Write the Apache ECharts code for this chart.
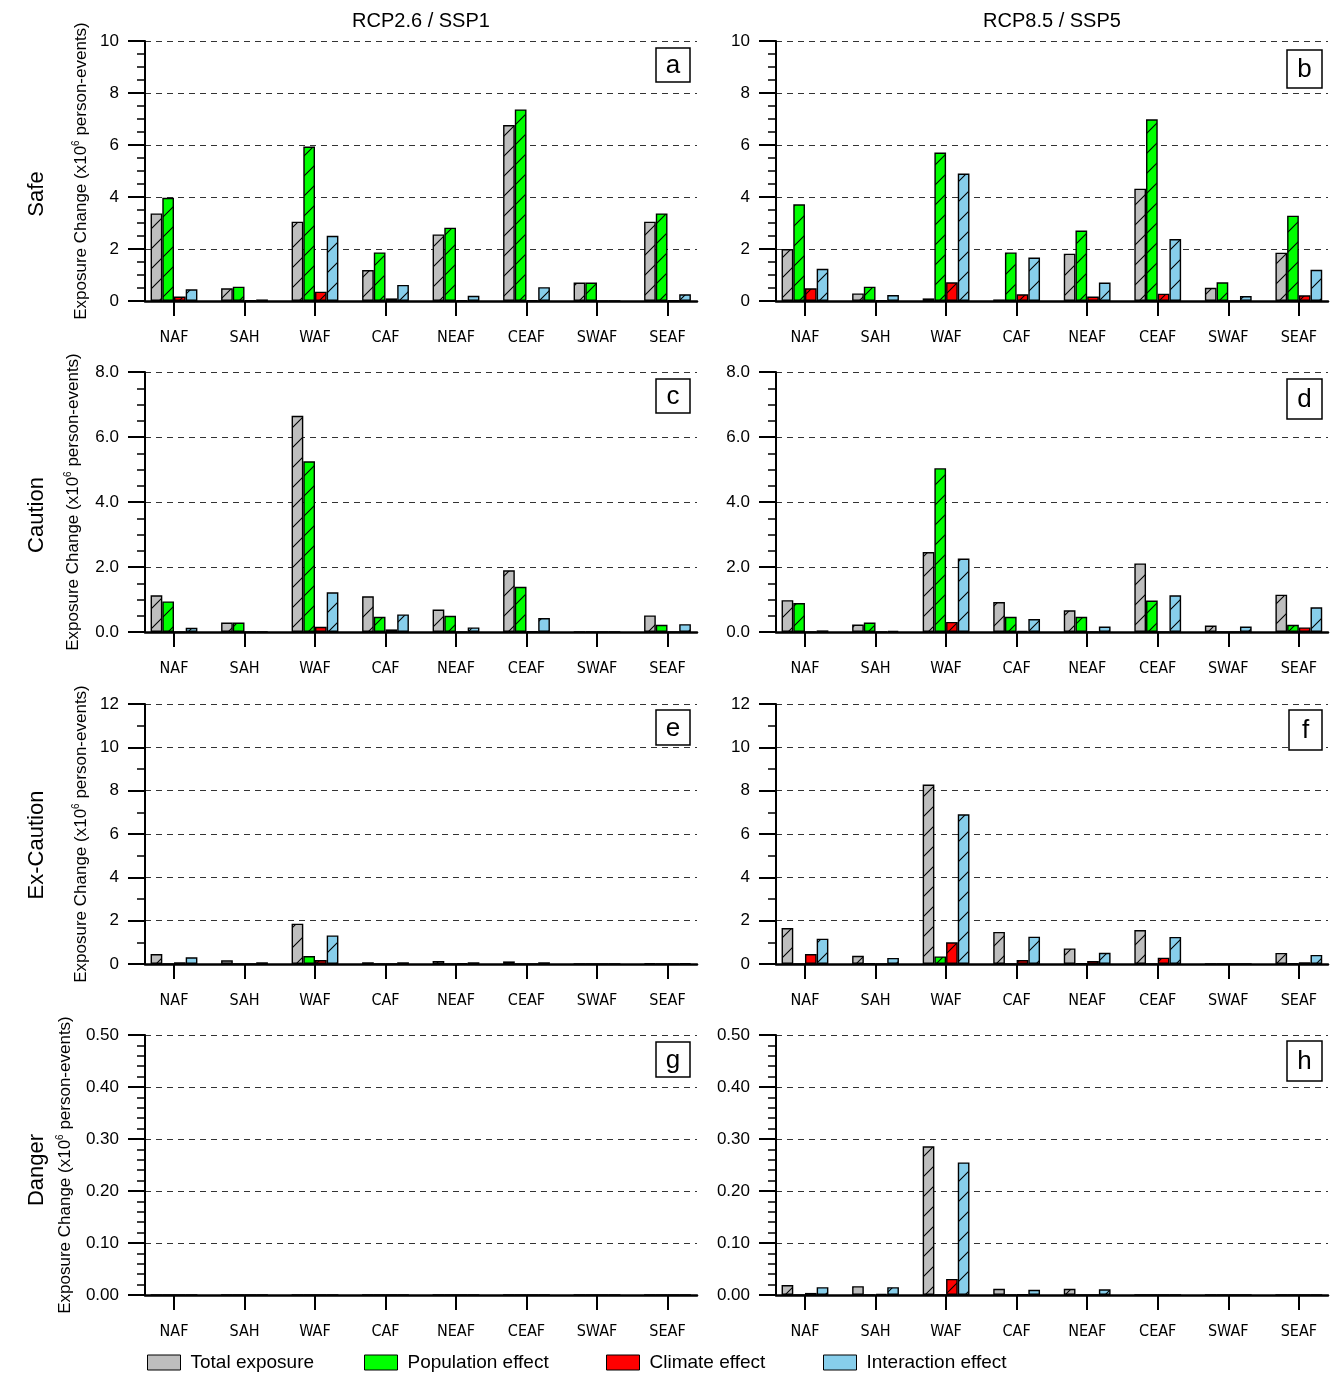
<!DOCTYPE html>
<html><head><meta charset="utf-8">
<script src="https://cdn.jsdelivr.net/npm/echarts@6/dist/echarts.min.js"></script>
<style>html,body{margin:0;padding:0;background:#fff}#chart{width:1332px;height:1374px}</style>
</head><body><div id="chart"></div>
<script>
// ---------- data ----------
const categories = ['NAF', 'SAH', 'WAF', 'CAF', 'NEAF', 'CEAF', 'SWAF', 'SEAF'];
const seriesNames = ['Total exposure', 'Population effect', 'Climate effect', 'Interaction effect'];
const seriesColors = ['#bebebe', '#00ff00', '#ff0000', '#87ceeb'];
const columnTitles = ['RCP2.6 / SSP1', 'RCP8.5 / SSP5'];
const rowTitles = ['Safe', 'Caution', 'Ex-Caution', 'Danger'];
const panelLetters = ['a', 'b', 'c', 'd', 'e', 'f', 'g', 'h'];
const rowAxisMax = [10, 8, 12, 0.5];
const rowAxisInterval = [2, 2, 2, 0.1];
const rowAxisDecimals = [0, 1, 0, 2];
const rowMinorSplits = [4, 4, 2, 5];

// a: Safe, RCP2.6/SSP1
const aTotal       = [3.37, 0.49, 3.05, 1.19, 2.56, 6.77, 0.71, 3.05];
const aPopulation  = [3.97, 0.55, 5.94, 1.87, 2.82, 7.37, 0.71, 3.37];
const aClimate     = [0.17, 0.02, 0.36, 0.10, 0.03, 0.03, 0.00, 0.02];
const aInteraction = [0.45, 0.06, 2.51, 0.62, 0.20, 0.53, 0.00, 0.26];
// b: Safe, RCP8.5/SSP5
const bTotal       = [2.00, 0.29, 0.10, 0.06, 1.82, 4.32, 0.51, 1.86];
const bPopulation  = [3.72, 0.55, 5.71, 1.87, 2.71, 6.99, 0.72, 3.28];
const bClimate     = [0.49, 0.02, 0.72, 0.26, 0.17, 0.28, 0.00, 0.22];
const bInteraction = [1.24, 0.23, 4.90, 1.67, 0.71, 2.38, 0.19, 1.20];
// c: Caution, RCP2.6/SSP1
const cTotal       = [1.13, 0.29, 6.65, 1.10, 0.69, 1.90, 0.01, 0.51];
const cPopulation  = [0.94, 0.29, 5.25, 0.47, 0.50, 1.39, 0.01, 0.22];
const cClimate     = [0.01, 0.00, 0.16, 0.08, 0.01, 0.02, 0.00, 0.01];
const cInteraction = [0.13, 0.01, 1.22, 0.54, 0.14, 0.43, 0.01, 0.24];
// d: Caution, RCP8.5/SSP5
const dTotal       = [0.98, 0.23, 2.46, 0.92, 0.67, 2.11, 0.20, 1.15];
const dPopulation  = [0.89, 0.29, 5.04, 0.47, 0.47, 0.97, 0.00, 0.22];
const dClimate     = [0.01, 0.00, 0.31, 0.04, 0.01, 0.01, 0.00, 0.14];
const dInteraction = [0.05, 0.04, 2.26, 0.40, 0.17, 1.13, 0.17, 0.76];
// e: Ex-Caution, RCP2.6/SSP1
const eTotal       = [0.46, 0.17, 1.86, 0.08, 0.14, 0.12, 0.00, 0.03];
const ePopulation  = [0.01, 0.00, 0.37, 0.00, 0.00, 0.00, 0.00, 0.00];
const eClimate     = [0.08, 0.00, 0.18, 0.00, 0.03, 0.00, 0.00, 0.00];
const eInteraction = [0.31, 0.08, 1.32, 0.08, 0.08, 0.08, 0.00, 0.03];
// f: Ex-Caution, RCP8.5/SSP5
const fTotal       = [1.66, 0.38, 8.28, 1.48, 0.72, 1.57, 0.00, 0.51];
const fPopulation  = [0.00, 0.02, 0.35, 0.00, 0.02, 0.00, 0.00, 0.03];
const fClimate     = [0.46, 0.00, 1.00, 0.18, 0.14, 0.29, 0.00, 0.08];
const fInteraction = [1.17, 0.28, 6.91, 1.26, 0.52, 1.25, 0.00, 0.42];
// g: Danger, RCP2.6/SSP1
const gTotal       = [0, 0, 0, 0, 0, 0, 0, 0];
const gPopulation  = [0, 0, 0, 0, 0, 0, 0, 0];
const gClimate     = [0, 0, 0, 0, 0, 0, 0, 0];
const gInteraction = [0, 0, 0, 0, 0, 0, 0, 0];
// h: Danger, RCP8.5/SSP5
const hTotal       = [0.019, 0.017, 0.286, 0.012, 0.012, 0, 0, 0];
const hPopulation  = [0, 0, 0, 0, 0, 0, 0, 0];
const hClimate     = [0.004, 0.002, 0.031, 0.001, 0, 0, 0, 0];
const hInteraction = [0.015, 0.015, 0.255, 0.010, 0.011, 0, 0, 0];

const panelData = [
  [aTotal, aPopulation, aClimate, aInteraction],
  [bTotal, bPopulation, bClimate, bInteraction],
  [cTotal, cPopulation, cClimate, cInteraction],
  [dTotal, dPopulation, dClimate, dInteraction],
  [eTotal, ePopulation, eClimate, eInteraction],
  [fTotal, fPopulation, fClimate, fInteraction],
  [gTotal, gPopulation, gClimate, gInteraction],
  [hTotal, hPopulation, hClimate, hInteraction]
];

// ---------- layout ----------
const rowTop = [41, 372, 704, 1035];
const plotH = 260;
const axisLeft = [145, 776];
const axisRight = [697, 1328];
const barLeft = [138.75, 769.7];
const barBand = [70.5, 70.55];
const nameGaps = [54, 62, 54, 70];
const rowTitleY = [194, 515, 845, 1170];
const letterBoxes = [
  [656, 48, 34, 34], [1287, 50, 35, 38],
  [656, 379, 34, 34], [1287, 379, 35, 40],
  [656, 710, 34, 35], [1289, 710, 33, 40],
  [656, 1042, 34, 35], [1287, 1041, 35, 40]
];
const FONT = '"Liberation Sans", Arial, Helvetica, sans-serif';
const NARROW = '"Liberation Sans Narrow", "DejaVu Sans Condensed", "Liberation Sans", sans-serif';

function makeHatch(fill) {
  const c = document.createElement('canvas');
  c.width = 20; c.height = 20;
  const ctx = c.getContext('2d');
  ctx.fillStyle = fill;
  ctx.fillRect(0, 0, 20, 20);
  ctx.strokeStyle = '#000';
  ctx.lineWidth = 1.1;
  ctx.beginPath();
  ctx.moveTo(-2, 22); ctx.lineTo(22, -2);
  ctx.moveTo(-12, 12); ctx.lineTo(12, -12);
  ctx.moveTo(8, 32); ctx.lineTo(32, 8);
  ctx.stroke();
  return c;
}
const patterns = seriesColors.map(col => ({ image: makeHatch(col), repeat: 'repeat' }));

const grids = [], xAxes = [], yAxes = [], series = [], graphics = [];

panelData.forEach((pd, i) => {
  const r = Math.floor(i / 2), c = i % 2;
  const gA = i * 2, gB = i * 2 + 1;
  grids.push({ left: axisLeft[c], top: rowTop[r], width: axisRight[c] - axisLeft[c], height: plotH,
    containLabel: false, outerBoundsMode: 'none' });
  grids.push({ left: barLeft[c], top: rowTop[r], width: barBand[c] * 8, height: plotH,
    containLabel: false, outerBoundsMode: 'none' });

  xAxes.push({ gridIndex: gA, type: 'category', data: categories,
    axisLine: { show: true, lineStyle: { color: '#000', width: 2.5 } },
    axisTick: { show: false }, axisLabel: { show: false }, splitLine: { show: false } });
  xAxes.push({ gridIndex: gB, type: 'category', data: categories, boundaryGap: true,
    axisLine: { show: false },
    axisTick: { show: true, alignWithLabel: true, length: 15, lineStyle: { color: '#000', width: 2 } },
    axisLabel: { show: true, interval: 0, margin: 29, fontSize: 16, fontFamily: NARROW, color: '#000' },
    splitLine: { show: false } });

  const yName = c === 0 ? '{a|Exposure Change (x10}{s|6}{a| person-events)}' : '';
  yAxes.push({ gridIndex: gA, type: 'value', min: 0, max: rowAxisMax[r], interval: rowAxisInterval[r],
    name: yName, nameLocation: 'middle', nameRotate: 90, nameGap: nameGaps[r],
    nameTextStyle: { rich: {
      a: { fontSize: 17, fontFamily: FONT, color: '#000', lineHeight: 20 },
      s: { fontSize: 10, fontFamily: FONT, color: '#000', verticalAlign: 'top', lineHeight: 20 } } },
    axisLine: { show: true, lineStyle: { color: '#000', width: 2 } },
    axisTick: { show: true, inside: false, length: 17, lineStyle: { color: '#000', width: 2 } },
    minorTick: { show: true, splitNumber: rowMinorSplits[r], length: 8, lineStyle: { color: '#000', width: 1.5 } },
    axisLabel: { show: true, margin: 26, fontSize: 17, fontFamily: FONT, color: '#000',
      formatter: v => Number(v).toFixed(rowAxisDecimals[r]) },
    splitLine: { show: true, lineStyle: { type: [6, 5], color: '#333', width: 1 } },
    minorSplitLine: { show: false } });
  yAxes.push({ gridIndex: gB, type: 'value', min: 0, max: rowAxisMax[r], show: false,
    splitLine: { show: false } });

  pd.forEach((vals, k) => {
    series.push({ type: 'bar', name: seriesNames[k], xAxisIndex: gB, yAxisIndex: gB,
      data: vals, barWidth: 11.7, barGap: '0%', silent: true,
      itemStyle: { color: patterns[k], borderColor: '#000', borderWidth: 1.4 },
      emphasis: { disabled: true } });
  });

  const lb = letterBoxes[i];
  graphics.push({ type: 'rect', shape: { x: lb[0], y: lb[1], width: lb[2], height: lb[3] },
    style: { fill: '#fff', stroke: '#000', lineWidth: 1.5 }, z: 100 });
  graphics.push({ type: 'text', x: lb[0] + lb[2] / 2, y: lb[1] + lb[3] / 2 + 1,
    style: { text: panelLetters[i], font: '26px ' + FONT, fill: '#000',
      textAlign: 'center', textVerticalAlign: 'middle', align: 'center', verticalAlign: 'middle' }, z: 101 });
});

columnTitles.forEach((t, c) => {
  graphics.push({ type: 'text', x: (axisLeft[c] + axisRight[c]) / 2, y: 21,
    style: { text: t, font: '20px ' + FONT, fill: '#000',
      textAlign: 'center', textVerticalAlign: 'middle', align: 'center', verticalAlign: 'middle' } });
});
rowTitles.forEach((t, r) => {
  graphics.push({ type: 'text', x: 37, y: rowTitleY[r], rotation: Math.PI / 2,
    style: { text: t, font: '22px ' + FONT, fill: '#000',
      textAlign: 'center', textVerticalAlign: 'middle', align: 'center', verticalAlign: 'middle' } });
});

const legendLeft = [147, 364, 606, 823];
const legends = seriesNames.map((n, k) => ({
  show: true, left: legendLeft[k], top: 1353, padding: 0, itemWidth: 33, itemHeight: 15,
  selectedMode: false, icon: 'rect',
  data: [{ name: n, itemStyle: { color: seriesColors[k], borderColor: '#000', borderWidth: 1 } }],
  textStyle: { fontSize: 19, fontFamily: FONT, color: '#000', padding: [0, 0, 0, 5] }
}));

const chart = echarts.init(document.getElementById('chart'), null, { renderer: 'canvas', width: 1332, height: 1374 });
chart.setOption({
  animation: false,
  backgroundColor: '#fff',
  grid: grids, xAxis: xAxes, yAxis: yAxes, series: series,
  legend: legends, graphic: graphics,
  tooltip: { show: false }
});
</script></body></html>
